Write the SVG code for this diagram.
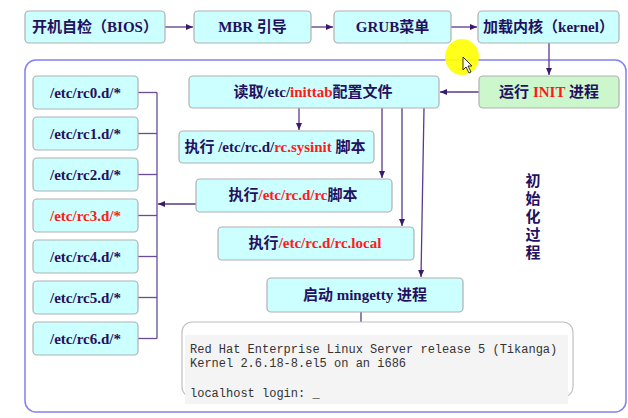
<svg xmlns="http://www.w3.org/2000/svg" width="628" height="418" viewBox="0 0 628 418">
<defs>
<style>
.box{fill:#ccffff;stroke:#b0b0b0;stroke-width:1.2}
.gbox{fill:#ccf7cc;stroke:#b0b0b0;stroke-width:1.2}
.t{font-family:"Liberation Serif","Noto Sans CJK SC",serif;font-weight:bold;font-size:15px;fill:#231060;text-anchor:middle}
.r{fill:#ff1a1a}
.ln{stroke:#6a4a9a;stroke-width:1.3;fill:none}
.ar{stroke:#5a3a8a;stroke-width:1.3;fill:none;marker-end:url(#ah)}
.mono{font-family:"Liberation Mono","DejaVu Sans Mono",monospace;font-size:12px;fill:#333}
</style>
<marker id="ah" markerWidth="8" markerHeight="8" refX="7" refY="4" orient="auto" markerUnits="userSpaceOnUse">
<path d="M0,1 L7,4 L0,7 Z" fill="#3a1a6a"/>
</marker>
</defs>
<rect width="628" height="418" fill="#ffffff"/>
<rect id="container" x="25" y="60" width="601" height="352" rx="11" fill="none" stroke="#8080f0" stroke-width="1.5"/>

<g id="connectors">
<line class="ar" x1="165" y1="27" x2="193" y2="27"/>
<line class="ar" x1="311" y1="27" x2="333" y2="27"/>
<line class="ar" x1="451" y1="27" x2="477" y2="27"/>
<line class="ar" x1="549" y1="43" x2="549" y2="75"/>
<line class="ar" x1="479" y1="92" x2="440" y2="92"/>
<line class="ar" x1="299" y1="108" x2="299" y2="130"/>
<line class="ar" x1="382" y1="108" x2="382" y2="178"/>
<line class="ar" x1="402" y1="108" x2="402" y2="226"/>
<line class="ar" x1="424" y1="108" x2="421" y2="277"/>
<line class="ar" x1="361" y1="312" x2="361" y2="335"/>
<line class="ar" x1="196" y1="204" x2="158" y2="204"/>
<line class="ln" x1="157" y1="92.5" x2="157" y2="338.5"/>
<line class="ln" x1="138" y1="92.5" x2="157" y2="92.5"/>
<line class="ln" x1="138" y1="133.5" x2="157" y2="133.5"/>
<line class="ln" x1="138" y1="174.5" x2="157" y2="174.5"/>
<line class="ln" x1="138" y1="215.5" x2="157" y2="215.5"/>
<line class="ln" x1="138" y1="256.5" x2="157" y2="256.5"/>
<line class="ln" x1="138" y1="297.5" x2="157" y2="297.5"/>
<line class="ln" x1="138" y1="338.5" x2="157" y2="338.5"/>
</g>

<g id="bios"><rect class="box" x="25" y="11" width="140" height="32" rx="4"/><text class="t" x="95" y="32">开机自检（BIOS）</text></g>
<g id="mbr"><rect class="box" x="194" y="11" width="117" height="32" rx="4"/><text class="t" x="252.5" y="32">MBR 引导</text></g>
<g id="grub"><rect class="box" x="334" y="11" width="117" height="32" rx="4"/><text class="t" x="392.5" y="32">GRUB菜单</text></g>
<g id="kernel"><rect class="box" x="478" y="11" width="141" height="32" rx="4"/><text class="t" x="548.5" y="32">加载内核（kernel）</text></g>

<g id="init"><rect class="gbox" x="479" y="76" width="140" height="32" rx="4"/><text class="t" x="549" y="97">运行 <tspan class="r">INIT</tspan> 进程</text></g>
<g id="inittab"><rect class="box" x="189" y="76" width="250" height="32" rx="4"/><text class="t" x="313" y="97">读取/etc/<tspan class="r">inittab</tspan>配置文件</text></g>
<g id="sysinit"><rect class="box" x="179" y="131" width="195" height="32" rx="4"/><text class="t" x="275" y="152">执行 /etc/rc.d/<tspan class="r">rc.sysinit</tspan> 脚本</text></g>
<g id="rcscript"><rect class="box" x="196" y="179" width="196" height="33" rx="4"/><text class="t" x="293" y="200">执行<tspan class="r">/etc/rc.d/rc</tspan>脚本</text></g>
<g id="rclocal"><rect class="box" x="218" y="227" width="196" height="33" rx="4"/><text class="t" x="315" y="248">执行<tspan class="r">/etc/rc.d/rc.local</tspan></text></g>
<g id="mingetty"><rect class="box" x="267" y="278" width="196" height="34" rx="4"/><text class="t" x="365" y="300">启动 mingetty 进程</text></g>

<g id="rc0"><rect class="box" x="33" y="76" width="105" height="33" rx="4"/><text class="t" x="85.5" y="97.5">/etc/rc0.d/*</text></g>
<g id="rc1"><rect class="box" x="33" y="117" width="105" height="33" rx="4"/><text class="t" x="85.5" y="138.5">/etc/rc1.d/*</text></g>
<g id="rc2"><rect class="box" x="33" y="158" width="105" height="33" rx="4"/><text class="t" x="85.5" y="179.5">/etc/rc2.d/*</text></g>
<g id="rc3"><rect class="box" x="33" y="199" width="105" height="33" rx="4"/><text class="t r" x="85.5" y="220.5">/etc/rc3.d/*</text></g>
<g id="rc4"><rect class="box" x="33" y="240" width="105" height="33" rx="4"/><text class="t" x="85.5" y="261.5">/etc/rc4.d/*</text></g>
<g id="rc5"><rect class="box" x="33" y="281" width="105" height="33" rx="4"/><text class="t" x="85.5" y="302.5">/etc/rc5.d/*</text></g>
<g id="rc6"><rect class="box" x="33" y="322" width="105" height="33" rx="4"/><text class="t" x="85.5" y="343.5">/etc/rc6.d/*</text></g>

<g id="label">
<text class="t" x="533" y="186">初</text>
<text class="t" x="533" y="204">始</text>
<text class="t" x="533" y="222">化</text>
<text class="t" x="533" y="240">过</text>
<text class="t" x="533" y="258">程</text>
</g>

<g id="terminal">
<rect x="182" y="322" width="391" height="75" rx="10" fill="#ffffff" stroke="#c0c0c0" stroke-width="1.2"/>
<rect x="185" y="335" width="383" height="69" fill="#f4f4f4"/>
<text class="mono" x="190" y="353">Red Hat Enterprise Linux Server release 5 (Tikanga)</text>
<text class="mono" x="190" y="367">Kernel 2.6.18-8.el5 on an i686</text>
<text class="mono" x="190" y="397">localhost login: _</text>
</g>

<g id="cursor">
<ellipse cx="462" cy="57" rx="17" ry="18" fill="#ffff00" opacity="0.9"/>
<path d="M463,57 L463,70 L466,67 L469,73 L471,72 L468,66 L472,66 Z" fill="#ffffff" stroke="#000000" stroke-width="0.8"/>
</g>
</svg>
